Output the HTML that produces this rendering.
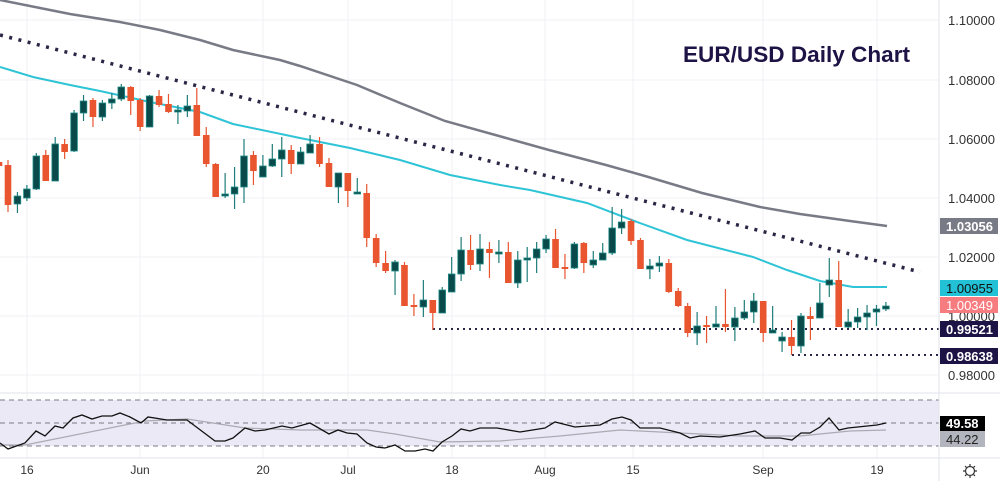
<!DOCTYPE html>
<html><head><meta charset="utf-8"><style>
html,body{margin:0;padding:0;background:#fff;}
svg{display:block;font-family:"Liberation Sans",sans-serif;}
</style></head><body>
<svg id="c" width="1000" height="481" viewBox="0 0 1000 481" xmlns="http://www.w3.org/2000/svg">
<rect width="1000" height="481" fill="#fff"/>
<g id="grid" stroke="#f0f1f4" stroke-width="1">
<line x1="0" y1="20" x2="939" y2="20"/><line x1="0" y1="80" x2="939" y2="80"/><line x1="0" y1="139" x2="939" y2="139"/><line x1="0" y1="198" x2="939" y2="198"/><line x1="0" y1="257" x2="939" y2="257"/><line x1="0" y1="316" x2="939" y2="316"/><line x1="0" y1="375" x2="939" y2="375"/>
<line x1="27" y1="0" x2="27" y2="458"/><line x1="140" y1="0" x2="140" y2="458"/><line x1="263" y1="0" x2="263" y2="458"/><line x1="348" y1="0" x2="348" y2="458"/><line x1="452" y1="0" x2="452" y2="458"/><line x1="545" y1="0" x2="545" y2="458"/><line x1="633" y1="0" x2="633" y2="458"/><line x1="763" y1="0" x2="763" y2="458"/><line x1="877" y1="0" x2="877" y2="458"/>
</g>
<text x="683" y="62" font-size="22" font-weight="bold" fill="#1e1345" textLength="227" lengthAdjust="spacingAndGlyphs">EUR/USD Daily Chart</text>
<polyline fill="none" stroke="#787b86" stroke-width="2.5" points="0,0 40,8 70,14 120,22 160,30 200,40 233,50 280,60 300,66 357,85 400,103 445,121 499,136 549,150 606,165 645,176 702,193 760,207 800,214 850,221 887,226"/>
<polyline fill="none" stroke="#2ec4d6" stroke-width="2" points="0,67 33,77 70,85 100,91 150,102 200,112 233,124 300,138 350,148 400,160 450,175 500,185 530,190 587,203 637,222 687,240 753,257 787,270 820,281 853,287 887,287"/>
<line x1="0" y1="35" x2="920" y2="272" stroke="#2a2645" stroke-width="3.5" stroke-dasharray="3,6.5"/>
<line x1="433" y1="329" x2="939" y2="329" stroke="#2a2645" stroke-width="2" stroke-dasharray="2,4"/>
<line x1="792" y1="355" x2="939" y2="355" stroke="#2a2645" stroke-width="2" stroke-dasharray="2,4"/>
<g id="candles"></g>
<line x1="0" y1="393" x2="1000" y2="393" stroke="#e0e3eb"/>
<rect x="0" y="400" width="939" height="46" fill="#ece9f6"/>
<g stroke="#787b86" stroke-dasharray="5,4" stroke-width="1">
<line x1="0" y1="400" x2="939" y2="400"/><line x1="0" y1="423" x2="939" y2="423"/><line x1="0" y1="446" x2="939" y2="446"/></g>
<polyline fill="none" stroke="#aaaab2" stroke-width="1.2" points="0,445 25,445 145,421 187,419 245,428 300,430 367,430 395,434 440,442 500,441 560,436 620,430 680,433 740,436 800,436 850,431 886,430"/>
<polyline fill="none" stroke="#111" stroke-width="1.3" points="0,443 8,449 25,443 36,431 45,436 55,426 63,428 73,418 82,415 92,419 102,416 112,416 120,413 130,417 141,423 148,417 167,420 187,420 215,441 225,441 233,438 245,428 255,431 265,430 282,426 292,428 310,423 329,434 338,430 347,433 357,434 367,443 376,447 385,448 395,445 405,451 415,451 425,449 433,451 442,442 452,436 461,429 470,431 480,428 497,428 520,432 545,428 555,422 575,427 600,425 612,419 622,417 631,420 640,428 660,428 680,433 690,438 700,436 720,437 740,434 755,431 765,438 780,438 792,440 801,433 810,433 820,427 829,418 839,430 848,428 877,425 886,423"/>
<line x1="0" y1="458" x2="1000" y2="458" stroke="#e0e3eb"/>
<line x1="939" y1="0" x2="939" y2="481" stroke="#e0e3eb"/>
<g font-size="12" fill="#333" text-anchor="middle">
<text x="27" y="474">16</text><text x="140" y="474">Jun</text><text x="263" y="474">20</text><text x="348" y="474">Jul</text><text x="452" y="474">18</text><text x="545" y="474">Aug</text><text x="633" y="474">15</text><text x="763" y="474">Sep</text><text x="877" y="474">19</text></g>
<g font-size="13" fill="#333">
<text x="948" y="25">1.10000</text><text x="948" y="85">1.08000</text><text x="948" y="144">1.06000</text><text x="948" y="203">1.04000</text><text x="948" y="262">1.02000</text><text x="948" y="321">1.00000</text><text x="948" y="380">0.98000</text></g>
<rect x="940" y="218" width="58" height="16" fill="#787b86"/><text x="946" y="231" font-size="13" font-weight="bold" fill="#fff">1.03056</text>
<rect x="940" y="280" width="58" height="16" fill="#22c1d6"/><text x="946" y="293" font-size="13" fill="#111">1.00955</text>
<rect x="940" y="297" width="58" height="16" fill="#f77c80"/><text x="946" y="310" font-size="13" fill="#fff">1.00349</text>
<rect x="940" y="321" width="58" height="16" fill="#1e1345"/><text x="946" y="334" font-size="13" font-weight="bold" fill="#fff">0.99521</text>
<rect x="940" y="348" width="58" height="16" fill="#1e1345"/><text x="946" y="361" font-size="13" font-weight="bold" fill="#fff">0.98638</text>
<rect x="940" y="416" width="45" height="15" fill="#000"/><text x="946" y="428" font-size="13" font-weight="bold" fill="#fff">49.58</text>
<rect x="940" y="431" width="45" height="16" fill="#b2b5be"/><text x="946" y="444" font-size="13" fill="#222">44.22</text>
<g transform="translate(970,471)" stroke="#333" fill="none" stroke-width="1.2"><circle r="4.5"/><path d="M0,-7V-5M0,5V7M-7,0H-5M5,0H7M-5,-5L-3.6,-3.6M5,5L3.6,3.6M-5,5L-3.6,3.6M5,-5L3.6,-3.6"/></g>
</svg>
<script>
var d=[[0,'r',162,166,158,170],
[1,'r',165,205,160,212],[2,'g',204,196,192,213],[3,'g',198,189,185,201],[4,'g',189,156,153,190],[5,'r',155,181,150,181],[6,'g',181,144,137,181],[7,'r',144,152,139,159],[8,'g',151,113,110,152],[9,'g',113,101,95,121],[10,'r',100,117,98,127],
[11,'g',117,103,100,121],[12,'g',103,99,93,109],[13,'g',99,87,84,101],[14,'r',87,101,86,115],[15,'r',100,127,98,131],[16,'g',127,96,95,127],[17,'r',96,105,90,107],[18,'r',104,112,94,113],[19,'g',111,110,105,124],[20,'g',111,106,95,117],
[21,'r',105,136,88,136],[22,'r',135,164,127,167],[23,'r',164,197,163,197],[24,'g',196,194,173,198],[25,'g',194,187,167,209],[26,'g',187,156,139,203],[27,'r',155,171,151,185],[28,'g',177,166,155,177],[29,'g',166,159,144,167],[30,'g',159,150,137,177],
[31,'r',150,164,145,174],[32,'g',164,152,147,164],[33,'g',153,144,135,153],[34,'r',144,164,137,167],[35,'r',163,187,158,187],[36,'g',187,173,173,203],[37,'r',173,191,173,207],[38,'g',193,192,178,193],[39,'r',193,238,184,247],[40,'r',238,263,234,267],
[41,'r',263,271,251,273],[42,'g',271,262,260,295],[43,'r',265,306,262,306],[44,'r',305,307,294,316],[45,'g',307,300,280,317],[46,'r',300,313,300,330],[47,'g',313,290,287,313],[48,'g',292,274,257,292],[49,'g',274,250,237,281],[50,'r',250,265,235,270],
[51,'g',264,249,234,271],[52,'r',249,253,242,278],[53,'g',253,252,240,263],[54,'r',252,283,242,283],[55,'g',283,260,251,288],[56,'g',260,258,247,282],[57,'g',258,249,242,273],[58,'g',249,239,235,253],[59,'r',239,268,229,268],[60,'r',267,268,254,279],
[61,'g',268,244,242,269],[62,'r',243,263,242,273],[63,'g',265,260,251,268],[64,'g',260,253,243,260],[65,'g',253,228,207,255],[66,'g',228,222,209,234],[67,'r',221,241,219,245],[68,'r',240,269,238,269],[69,'g',269,266,259,279],[70,'g',266,263,256,272],
[71,'r',263,292,259,293],[72,'r',291,306,288,307],[73,'r',306,333,303,337],[74,'g',333,326,312,345],[75,'r',325,327,316,343],[76,'g',327,324,306,327],[77,'r',324,327,289,332],[78,'g',327,318,307,341],[79,'g',318,312,300,320],[80,'g',312,301,293,323],
[81,'r',301,333,301,342],[82,'g',333,330,306,333],[83,'g',341,337,332,352],[84,'r',337,346,320,355],[85,'g',346,316,313,353],[86,'r',316,319,307,340],[87,'g',318,303,283,318],[88,'g',285,280,258,297],[89,'r',280,327,261,327],[90,'g',327,322,309,328],
[91,'g',322,317,308,328],[92,'g',317,313,305,330],[93,'g',312,309,305,326],[94,'g',309,306,302,311]];
var s='';
d.forEach(function(c){
 var x=c[0]==0?-1:8+(c[0]-1)*9.44;
 var col=c[1]=='r'?'#e8552f':'#0a4a4a';
 var wc=c[1]=='r'?'#e8552f':'#1e7d7a';
 var t=Math.min(c[2],c[3]),b=Math.max(c[2],c[3]);if(b-t<2){b=t+2;}
 s+='<line x1="'+x+'" x2="'+x+'" y1="'+c[4]+'" y2="'+c[5]+'" stroke="'+wc+'" stroke-width="1.2"/>';
 s+='<rect x="'+(x-3.3)+'" y="'+t+'" width="6.6" height="'+(b-t)+'" fill="'+col+'"'+(c[1]=='g'?' stroke="#1e8a86" stroke-width="0.8"':'')+'/>';
});
document.getElementById('candles').innerHTML=s;
</script>
</body></html>
